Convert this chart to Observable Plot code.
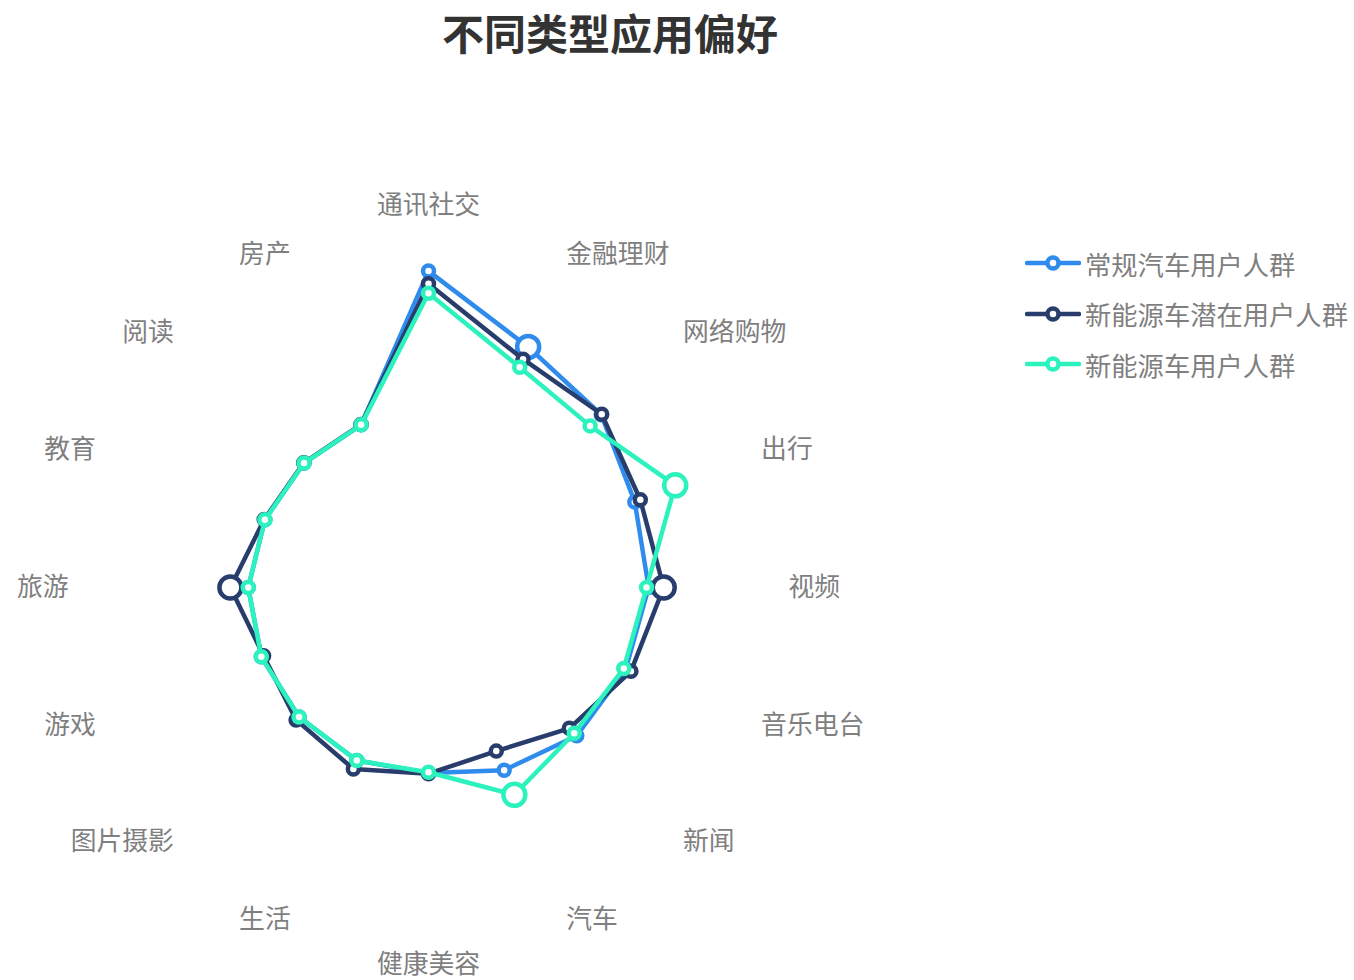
<!DOCTYPE html>
<html>
<head>
<meta charset="utf-8">
<script src="https://cdn.jsdelivr.net/npm/d3@7"></script>
<script src="https://cdn.jsdelivr.net/npm/@observablehq/plot@0.6"></script>
<style>
  html, body { margin: 0; padding: 0; background: #fff; }
  body { width: 1354px; height: 980px; position: relative; overflow: hidden;
         font-family: "Noto Sans CJK SC", "Noto Sans", sans-serif; }
  #title { position: absolute; left: 0; top: 0; width: 1220px; height: 64px; line-height: 64px;
           text-align: center; font-size: 42px; font-weight: bold; color: #333; }
  #chart { position: absolute; left: 0; top: 64px; }
  #chart svg { overflow: visible; }
  #legend { position: absolute; left: 1025px; top: 238px; }
  .row { height: 50.5px; display: flex; align-items: center; font-size: 26.3px; color: #7f7f7f; }
  .row svg { margin-right: 4px; }
</style>
</head>
<body>
<div id="title">不同类型应用偏好</div>
<div id="chart"></div>
<div id="legend"></div>
<script>
const categories = ["通讯社交","金融理财","网络购物","出行","视频","音乐电台","新闻","汽车","健康美容","生活","图片摄影","游戏","旅游","教育","阅读","房产"];
const seriesNames = ["常规汽车用户人群","新能源车潜在用户人群","新能源车用户人群"];
const seriesColors = ["#2f8cec","#283d6c","#2cf2bd"];
const regularUsers   = [90.4, 74.4, 69.8, 63.8, 62.9, 61.0, 59.9, 56.5, 53.0, 53.5, 52.3, 51.7, 51.5, 50.6, 50.3, 50.3];
const potentialUsers = [86.8, 70.6, 70.0, 65.5, 67.2, 62.6, 56.9, 50.6, 53.2, 56.1, 53.5, 51.0, 56.6, 50.8, 50.4, 50.4];
const nevUsers       = [84.1, 68.1, 65.3, 76.3, 62.3, 60.4, 58.9, 64.1, 52.8, 53.5, 52.3, 51.7, 51.5, 50.6, 50.3, 50.3];
const highlighted = [
  ["常规汽车用户人群","金融理财"],
  ["新能源车潜在用户人群","视频"],
  ["新能源车潜在用户人群","旅游"],
  ["新能源车用户人群","出行"],
  ["新能源车用户人群","汽车"]
];
const axisMax = 100;

const seriesValues = [regularUsers, potentialUsers, nevUsers];
const angleOf = i => 2 * Math.PI * i / categories.length;
const isHi = (s, c) => highlighted.some(([hs, hc]) => hs === s && hc === c);

const rows = [];
seriesNames.forEach((s, si) => {
  seriesValues[si].forEach((v, i) => {
    rows.push({series: s, category: categories[i], value: v,
               x: v * Math.sin(angleOf(i)), y: v * Math.cos(angleOf(i)),
               big: isHi(s, categories[i])});
  });
});

const labelR = axisMax * 1.0286;
const labels = categories.map((c, i) => ({category: c, i,
  x: labelR * Math.sin(angleOf(i)), y: labelR * Math.cos(angleOf(i))}));
const n = categories.length;
const rightLabels = labels.filter(d => d.i > 0 && d.i < n / 2);
const leftLabels = labels.filter(d => d.i > n / 2);
const topLabels = labels.filter(d => d.i === 0);
const bottomLabels = labels.filter(d => d.i === n / 2);

const cx = 428, cy = 523, Rpx = 350;
const labelFont = {fontSize: 25.8, fill: "#7f7f7f", fontFamily: "Noto Sans CJK SC"};

const marks = [];
seriesNames.forEach((s, si) => {
  const d = rows.filter(r => r.series === s);
  marks.push(Plot.line(d, {x: "x", y: "y", curve: "linear-closed", stroke: seriesColors[si], strokeWidth: 4.5, strokeLinejoin: "round"}));
  marks.push(Plot.dot(d.filter(r => !r.big), {x: "x", y: "y", r: 5.5, fill: "#fff", stroke: seriesColors[si], strokeWidth: 4.5}));
  marks.push(Plot.dot(d.filter(r => r.big), {x: "x", y: "y", r: 11, fill: "#fff", stroke: seriesColors[si], strokeWidth: 4.5}));
});
marks.push(Plot.text(rightLabels, {x: "x", y: "y", text: "category", textAnchor: "start", ...labelFont}));
marks.push(Plot.text(leftLabels, {x: "x", y: "y", text: "category", textAnchor: "end", ...labelFont}));
marks.push(Plot.text(topLabels, {x: "x", y: "y", text: "category", textAnchor: "middle", dy: -22, ...labelFont}));
marks.push(Plot.text(bottomLabels, {x: "x", y: "y", text: "category", textAnchor: "middle", dy: 17, ...labelFont}));

const chart = Plot.plot({
  width: 1354,
  height: 916,
  margin: 0,
  x: {domain: [-axisMax, axisMax], range: [cx - Rpx, cx + Rpx], axis: null},
  y: {domain: [-axisMax, axisMax], range: [cy + Rpx, cy - Rpx], axis: null},
  style: {fontFamily: "Noto Sans CJK SC", background: "transparent", overflow: "visible"},
  marks
});
document.getElementById("chart").appendChild(chart);

const legend = document.getElementById("legend");
seriesNames.forEach((s, si) => {
  const row = document.createElement("div");
  row.className = "row";
  row.innerHTML = `<svg width="56" height="20"><line x1="2" y1="10" x2="54" y2="10" stroke="${seriesColors[si]}" stroke-width="4.5" stroke-linecap="round"/><circle cx="28" cy="10" r="5.5" fill="#fff" stroke="${seriesColors[si]}" stroke-width="4.5"/></svg><span>${s}</span>`;
  legend.appendChild(row);
});
</script>
</body>
</html>
